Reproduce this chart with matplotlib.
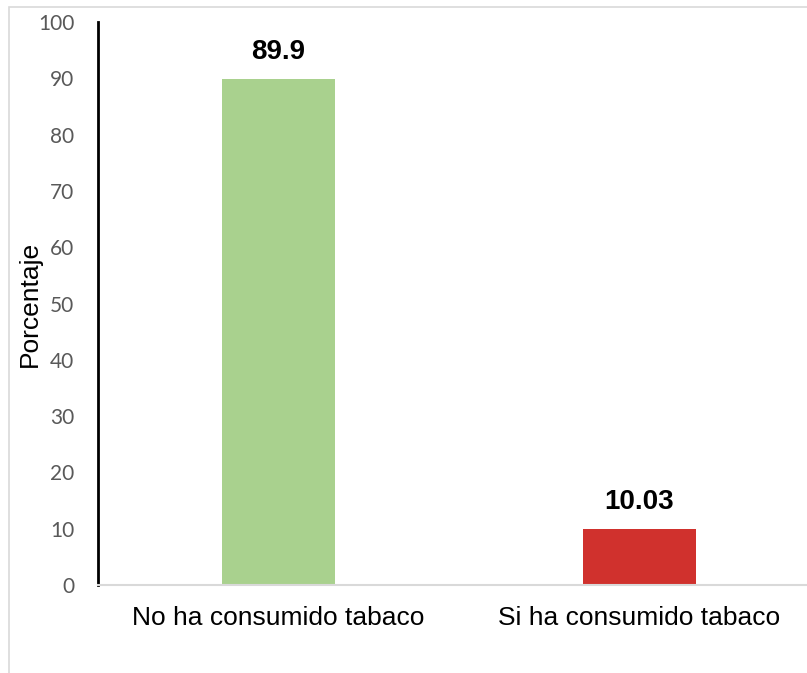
import matplotlib.pyplot as plt
from matplotlib.patches import Rectangle

categories = ['No ha consumido tabaco', 'Si ha consumido tabaco']
values = [89.9, 10.03]
colors = ['#a9d18e', '#d0312d']
yticks = list(range(0, 101, 10))

fig = plt.figure(figsize=(8.07, 6.73), dpi=100)

# light frame around the chart area
fig.patches.append(Rectangle((9 / 807, -0.1), 1.2, 1.1 - 7 / 673,
                             transform=fig.transFigure, fill=False,
                             edgecolor='#d9d9d9', linewidth=1.2))

ax = fig.add_axes([98 / 807, 88 / 673, 722 / 807, 563 / 673])
x = range(len(categories))
bars = ax.bar(x, values, width=0.315, color=colors)

for rect, v in zip(bars, values):
    ax.annotate(f'{v:g}', (rect.get_x() + rect.get_width() / 2, v),
                xytext=(0, 19), textcoords='offset points',
                ha='center', va='center', fontsize=20, fontweight='bold',
                family='Liberation Sans')

ax.set_xlim(-0.5, 1.5)
ax.set_ylim(0, 100)
ax.set_yticks(yticks)
ax.set_xticks(list(x))
ax.set_xticklabels(categories, fontsize=19, family='Liberation Sans')
ax.tick_params(axis='x', length=0, pad=15)
ax.tick_params(axis='y', length=0, pad=17, labelsize=15, labelcolor='#595959')
for lbl in ax.get_yticklabels():
    lbl.set_family('Lato')

ax.set_ylabel('Porcentaje', fontsize=19, family='Liberation Sans')
ax.yaxis.set_label_coords(-0.078, 0.5)

for side in ['top', 'right']:
    ax.spines[side].set_visible(False)
ax.spines['left'].set_color('black')
ax.spines['left'].set_linewidth(2)
ax.spines['bottom'].set_color('#d9d9d9')
ax.spines['bottom'].set_linewidth(1.5)

fig.savefig('out.png', dpi=100)
